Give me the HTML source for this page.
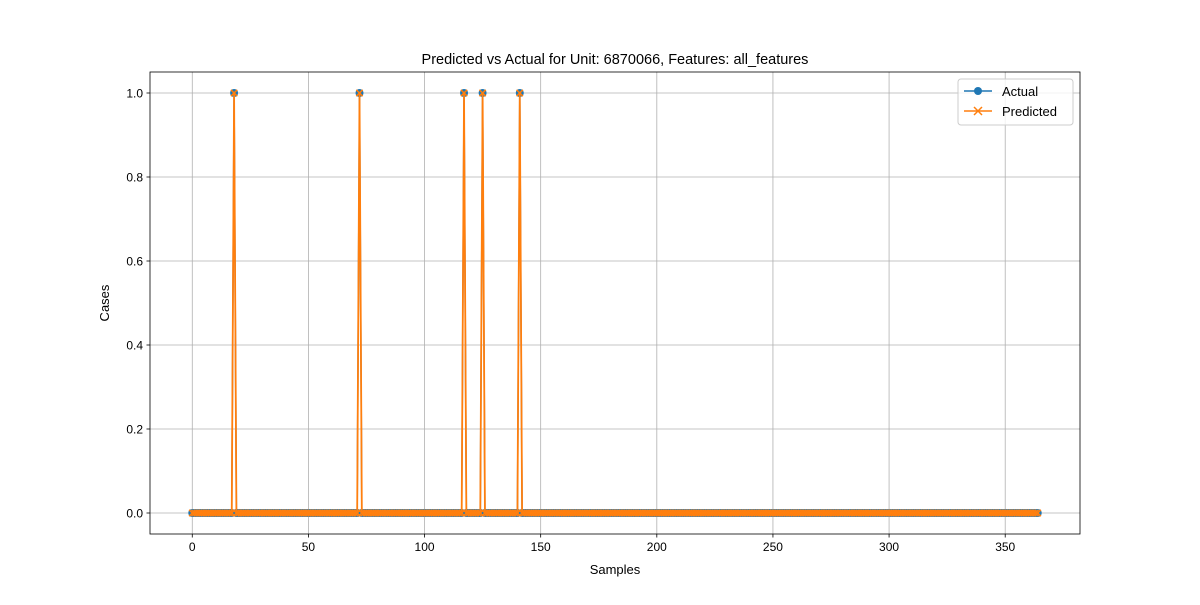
<!DOCTYPE html>
<html><head><meta charset="utf-8"><style>
body{margin:0;background:#fff}
svg{font-family:"Liberation Sans","DejaVu Sans",sans-serif}
</style></head><body>
<svg id="chart" width="1200" height="600" xmlns="http://www.w3.org/2000/svg">
<rect width="1200" height="600" fill="#fff"/>
<g id="grid"></g><g id="series"></g><g id="axes"></g>
<text x="615" y="64" text-anchor="middle" font-size="14.5">Predicted vs Actual for Unit: 6870066, Features: all_features</text>
<text x="615" y="574" text-anchor="middle" font-size="13">Samples</text>
<text x="109" y="303" text-anchor="middle" font-size="13" transform="rotate(-90 109 303)">Cases</text>
<g>
<rect x="958" y="79" width="115" height="46" fill="#fff" fill-opacity="0.8" stroke="#ccc" rx="3"/>
<g>
<line x1="964" y1="91" x2="992" y2="91" stroke="#1f77b4" stroke-width="1.5"/>
<circle cx="978" cy="91" r="4" fill="#1f77b4"/>
<text x="1002" y="96" font-size="13">Actual</text></g>
<g>
<line x1="964" y1="111" x2="992" y2="111" stroke="#ff7f0e" stroke-width="1.5"/>
<path d="M974 107L982 115M982 107L974 115" stroke="#ff7f0e" stroke-width="1.5"/>
<text x="1002" y="116" font-size="13">Predicted</text></g>
</g>
</svg>
<script>
const N = 365;
const actualSpikes = [18, 72, 117, 125, 141];
const predictedSpikes = [18, 72, 117, 125, 141];
const xTicks = [0, 50, 100, 150, 200, 250, 300, 350];
const yTicks = [0.0, 0.2, 0.4, 0.6, 0.8, 1.0];
const actual = [], predicted = [];
for (let i = 0; i < N; i++) { actual.push(actualSpikes.includes(i) ? 1 : 0); predicted.push(predictedSpikes.includes(i) ? 1 : 0); }
const L = 150, R = 1080, T = 72, B = 534;
const xmin = -18.2, xmax = 382.2, ymin = -0.05, ymax = 1.05;
const X = v => L + (v - xmin) / (xmax - xmin) * (R - L);
const Y = v => B - (v - ymin) / (ymax - ymin) * (B - T);
const NS = "http://www.w3.org/2000/svg";
function mk(tag, attrs, parent) { const e = document.createElementNS(NS, tag); for (const k in attrs) e.setAttribute(k, attrs[k]); parent.appendChild(e); return e; }
const grid = document.getElementById('grid'), axes = document.getElementById('axes'), series = document.getElementById('series');
xTicks.forEach(t => {
  const g = mk('line', {x1: X(t), x2: X(t), y1: T, y2: B, stroke: '#b0b0b0', 'stroke-width': 0.8}, grid);
  
  
  mk('line', {x1: X(t), x2: X(t), y1: B, y2: B + 3.5, stroke: '#000', 'stroke-width': 0.8}, axes);
  const tx = mk('text', {x: X(t), y: B + 17, 'text-anchor': 'middle', 'font-size': 12}, axes);
  tx.textContent = t;
  
  
});
yTicks.forEach(t => {
  const g = mk('line', {x1: L, x2: R, y1: Y(t), y2: Y(t), stroke: '#b0b0b0', 'stroke-width': 0.8}, grid);
  
  
  mk('line', {x1: L - 3.5, x2: L, y1: Y(t), y2: Y(t), stroke: '#000', 'stroke-width': 0.8}, axes);
  const tx = mk('text', {x: L - 7, y: Y(t) + 4.5, 'text-anchor': 'end', 'font-size': 12}, axes);
  tx.textContent = t.toFixed(1);
  
  
});
const frame = mk('rect', {x: L, y: T, width: R - L, height: B - T, fill: 'none', stroke: '#000', 'stroke-width': 0.8}, axes);


function pts(arr) { return arr.map((v, i) => X(i).toFixed(2) + ',' + Y(v).toFixed(2)).join(' '); }
const la = mk('polyline', {points: pts(actual), fill: 'none', stroke: '#1f77b4', 'stroke-width': 1.5}, series);


actual.forEach((v, i) => {
  const c = mk('circle', {cx: X(i), cy: Y(v), r: 4, fill: '#1f77b4'}, series);
  
  
});
const lp = mk('polyline', {points: pts(predicted), fill: 'none', stroke: '#ff7f0e', 'stroke-width': 1.8}, series);


predicted.forEach((v, i) => {
  const x = X(i), y = Y(v), s = 3.2;
  const p = mk('path', {d: `M${x-s} ${y-s}L${x+s} ${y+s}M${x+s} ${y-s}L${x-s} ${y+s}`, stroke: '#ff7f0e', 'stroke-width': 1.5}, series);
  
  
});
</script>
</body></html>
